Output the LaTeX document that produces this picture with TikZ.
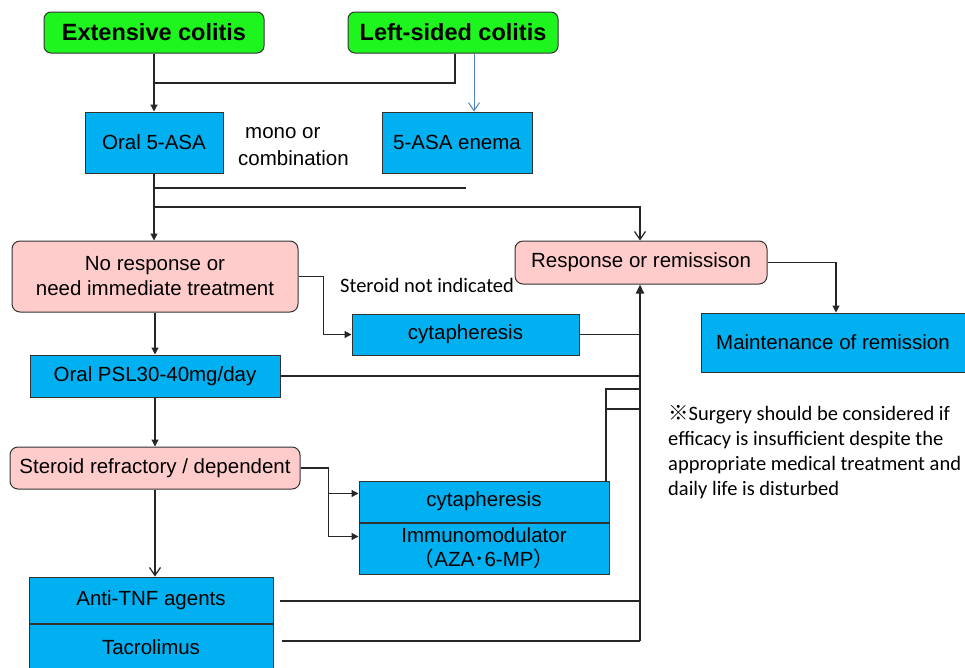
\documentclass[tikz,border=0pt]{standalone}
\usepackage{fontspec}
\setmainfont{Liberation Sans}
\newfontfamily\calib{Carlito}
\newfontfamily\cjk{Noto Sans CJK JP}
\usetikzlibrary{arrows.meta,calc}

\definecolor{titlegreen}{RGB}{30,245,30}
\definecolor{boxblue}{RGB}{0,176,240}
\definecolor{boxpink}{RGB}{255,204,204}
\definecolor{edgegray}{RGB}{50,50,50}
\definecolor{enemablue}{RGB}{79,129,189}

\newcommand{\bodysize}{\fontsize{20.5}{25}\selectfont}

\tikzset{
  titlebox/.style={draw=edgegray, line width=1pt, fill=titlegreen, rounded corners=7pt,
    font=\fontsize{23.5}{28}\selectfont\bfseries, inner sep=0pt},
  drugbox/.style={draw=edgegray, line width=1pt, fill=boxblue, font=\bodysize,
    inner sep=0pt, align=center},
  statebox/.style={draw=edgegray, line width=1pt, fill=boxpink, rounded corners=8pt,
    font=\bodysize, inner sep=0pt, align=center},
  plain/.style={font=\bodysize, inner sep=0pt},
  note/.style={font=\calib\fontsize{20.5}{25}\selectfont, inner sep=0pt},
  link/.style={line width=1.2pt, draw=black!85},
  solidtip/.style={link, -{Triangle[length=7pt,width=7pt]}},
  opentip/.style={link, -{Straight Barb[length=8pt,width=11pt]}},
}

\begin{document}
\begin{tikzpicture}[x=1pt,y=-1pt]
\useasboundingbox (0,0) rectangle (965,667);

% entry points
\node[titlebox, minimum width=220, minimum height=41] (ext)  at (154,32.5) {Extensive colitis};
\node[titlebox, minimum width=210, minimum height=41] (left) at (453,32.5) {Left-sided colitis};

% 5-ASA stage
\node[drugbox, minimum width=138, minimum height=61] (oral)  at (154,142.5) {Oral 5-ASA};
\node[drugbox, minimum width=150, minimum height=61] (enema) at (457,142.5) {5-ASA enema};
\node[plain, anchor=west] (mono) at (245,133) {mono or};
\node[plain, anchor=west] (comb) at (238,158) {combination};

% assessment
\node[statebox, minimum width=286, minimum height=71] (nores) at (155,276.5) {No response or\\need immediate treatment};
\node[statebox, minimum width=252, minimum height=43] (resp)  at (641,262.5) {Response or remissison};
\node[drugbox, minimum width=264, minimum height=59] (maint) at (833,342.5) {Maintenance of remission};

% steroid stage
\node[note, anchor=west] (nosteroid) at (340,285) {Steroid not indicated};
\node[drugbox, minimum width=227, minimum height=41] (cyto1) at (465.5,334.5) {cytapheresis};
\node[drugbox, minimum width=250, minimum height=42] (psl)   at (155,376) {Oral PSL30-40mg/day};
\node[statebox, minimum width=290, minimum height=42] (ster) at (155,468) {Steroid refractory / dependent};

% refractory options
\node[drugbox, minimum width=250, minimum height=41] (cyto2)  at (484,501.5) {cytapheresis};
\node[drugbox, minimum width=250, minimum height=51, font=\fontsize{20.5}{24}\selectfont] (immuno) at (484,548.5)
  {Immunomodulator\\{\cjk （}AZA{\cjk ･}6-MP{\cjk ）}};
\node[drugbox, minimum width=244, minimum height=46] (tnf)    at (151,600) {Anti-TNF agents};
\node[drugbox, minimum width=244, minimum height=46] (tacro)  at (151,647) {Tacrolimus};

% surgery remark
\node[note, anchor=north west, align=left] (remark) at (668,405)
  {{\cjk ※}Surgery should be considered if\\efficacy is insufficient despite the\\appropriate medical treatment and\\daily life is disturbed};

% junction points
\coordinate (j1) at (154,83);
\coordinate (j2) at (154,188);
\coordinate (e2) at (466,188);
\coordinate (j3) at (154,207);
\coordinate (vb) at (640,641);
\coordinate (u1) at (606,389);
\coordinate (u2) at (606,409);
\coordinate (t0) at (280,601);
\coordinate (t1) at (282,641);

% entry connectors
\draw[solidtip] (ext.south) -- (ext.south |- oral.north);
\draw[link] ([xshift=2pt]left.south) |- (j1);
\draw[link, draw=enemablue, line width=1pt, -{Straight Barb[length=8pt,width=11pt]}]
  ([xshift=21pt]left.south) -- ([xshift=21pt]left.south |- enema.north);

% from oral 5-ASA
\draw[solidtip] (oral.south) -- (oral.south |- nores.north);
\draw[link] (j2) -- (e2);
\draw[opentip] (j3) -| ([xshift=-1pt]resp.north);

% collecting line into response
\draw[link, line width=2pt, -{Triangle[length=9pt,width=8pt]}] (vb) -- (vb |- resp.south);
\draw[solidtip] (resp.east) -| ([xshift=3pt]maint.north);

% steroid path
\draw[solidtip] (nores.east) -- ++(25,0) |- (cyto1.west);
\draw[link] (cyto1.east) -- (cyto1.east -| vb);
\draw[solidtip] (nores.south) -- (nores.south |- psl.north);
\draw[link] (psl.east) -- (psl.east -| vb);
\draw[solidtip] (psl.south) -- (psl.south |- ster.north);

% refractory options
\draw[solidtip] (ster.east) -- ++(28,0) |- ([yshift=8pt]cyto2.west);
\draw[solidtip] (ster.east) -- ++(28,0) |- ([yshift=12pt]immuno.west);
\draw[link] (cyto2.north -| u1) -- (u1) -- (u1 -| vb);
\draw[link] (u2) -- (u2 -| vb);
\draw[opentip] (ster.south) -- (ster.south |- tnf.north);
\draw[link] (t0) -- (t0 -| vb);
\draw[link] (t1) -- (vb);
\end{tikzpicture}
\end{document}
